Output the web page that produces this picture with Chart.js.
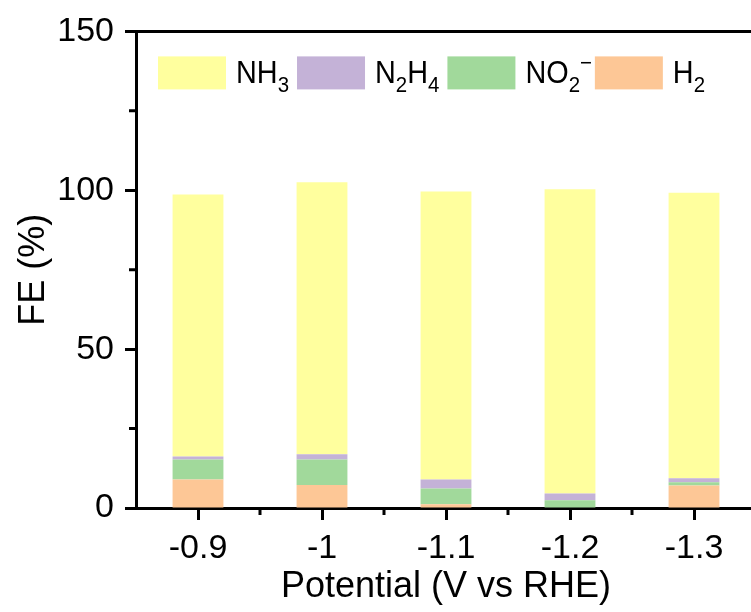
<!DOCTYPE html>
<html>
<head>
<meta charset="utf-8">
<script src="https://cdn.jsdelivr.net/npm/chart.js@4.4.1/dist/chart.umd.min.js"></script>
<style>
  html, body { margin: 0; padding: 0; background: #fff; overflow: hidden; }
  #wrap { width: 780px; height: 612px; }
</style>
</head>
<body>
<div id="wrap"><canvas id="feChart" width="780" height="612"></canvas></div>
<script>
// values (FE %, stacked bottom -> top)
const potentials = ['-0.9', '-1', '-1.1', '-1.2', '-1.3'];
const h2   = [9.0, 7.2, 1.2, 0.0, 7.1];
const no2  = [6.3, 8.1, 4.9, 2.4, 1.0];
const n2h4 = [0.9, 1.6, 2.9, 2.2, 1.3];
const nh3  = [82.5, 85.6, 90.6, 95.7, 89.8];
const yTicks = [0, 50, 100, 150];

const seriesNames  = ['H2', 'NO2-', 'N2H4', 'NH3'];
const seriesData   = [h2, no2, n2h4, nh3];
const seriesColors = ['#FDC796', '#A1D99B', '#C4B2D7', '#FFFF9E'];

const FONT = "'Liberation Sans', Arial, sans-serif";

// digits -> subscript, '-' -> superscript minus; slightly narrowed like the source font
function drawChem(ctx, label, x, y, size, sx) {
  ctx.save();
  ctx.translate(x, y);
  ctx.scale(sx, 1);
  let cx = 0;
  const small = `${Math.round(size * 0.7)}px ${FONT}`;
  for (const ch of label) {
    if (/[0-9]/.test(ch)) {
      ctx.font = small;
      ctx.fillText(ch, cx, size * 0.27);
      cx += ctx.measureText(ch).width;
    } else if (ch === '-') {
      ctx.font = small;
      ctx.fillText('\u2212', cx, -size * 0.42);
      cx += ctx.measureText('-').width;
    } else {
      ctx.font = `${size}px ${FONT}`;
      ctx.fillText(ch, cx, 0);
      cx += ctx.measureText(ch).width;
    }
  }
  ctx.restore();
  return cx * sx;
}

const legendBoxes = {
  id: 'legendBoxes',
  afterDraw(chart) {
    const { ctx, chartArea } = chart;
    let x = chartArea.left + 22;
    const top = chartArea.top + 25;
    ctx.save();
    ctx.textBaseline = 'alphabetic';
    chart.data.datasets.slice().reverse().forEach(ds => {
      ctx.fillStyle = ds.backgroundColor;
      ctx.fillRect(x, top, 68, 33);
      x += 68 + 10;
      ctx.fillStyle = '#000';
      x += drawChem(ctx, ds.label, x, top + 27, 31, 0.93) + 8;
    });
    ctx.restore();
  }
};

const frame = {
  id: 'frame',
  afterDraw(chart) {
    const { ctx, chartArea, scales: { x, y } } = chart;
    ctx.save();
    ctx.strokeStyle = '#000';
    ctx.lineWidth = 3;
    ctx.beginPath();
    ctx.moveTo(chartArea.left - 1.5, chartArea.top);
    ctx.lineTo(chartArea.right, chartArea.top);
    ctx.stroke();
    // minor ticks between categories
    const half = (x.getPixelForValue(1) - x.getPixelForValue(0)) / 2;
    ctx.beginPath();
    for (let i = 0; i < potentials.length; i++) {
      const px = x.getPixelForValue(i) + half;
      ctx.moveTo(px, chartArea.bottom);
      ctx.lineTo(px, chartArea.bottom + 7);
    }
    // minor ticks halfway between y labels
    for (let i = 0; i < yTicks.length - 1; i++) {
      const py = y.getPixelForValue((yTicks[i] + yTicks[i + 1]) / 2);
      ctx.moveTo(chartArea.left, py);
      ctx.lineTo(chartArea.left - 7, py);
    }
    ctx.stroke();
    ctx.restore();
  }
};

new Chart(document.getElementById('feChart'), {
  type: 'bar',
  data: {
    labels: potentials,
    datasets: seriesNames.map((name, i) => ({
      label: name,
      data: seriesData[i],
      backgroundColor: seriesColors[i],
      borderWidth: 0,
      barPercentage: 0.41,
      categoryPercentage: 1
    }))
  },
  options: {
    responsive: false,
    animation: false,
    layout: { padding: { top: 28, right: 24, left: 0, bottom: 0 } },
    plugins: { legend: { display: false }, tooltip: { enabled: false } },
    scales: {
      x: {
        stacked: true,
        offset: true,
        grid: { offset: false, drawOnChartArea: false, drawTicks: true, tickLength: 12, tickWidth: 3, tickColor: '#000' },
        border: { color: '#000', width: 3 },
        ticks: { color: '#000', font: { family: FONT, size: 34 }, padding: 8, maxRotation: 0 },
        title: { display: true, text: 'Potential (V vs RHE)', color: '#000', font: { family: FONT, size: 36 }, padding: { top: 0, bottom: 3 } },
        afterFit(s) { s.height = 104; }
      },
      y: {
        stacked: true,
        min: 0,
        max: 150,
        afterBuildTicks(s) { s.ticks = yTicks.map(v => ({ value: v })); },
        grid: { drawOnChartArea: false, drawTicks: true, tickLength: 11, tickWidth: 3, tickColor: '#000' },
        border: { color: '#000', width: 3 },
        ticks: { color: '#000', font: { family: FONT, size: 34 }, padding: 11 },
        title: { display: true, text: 'FE (%)', color: '#000', font: { family: FONT, size: 36 }, padding: { top: 12, bottom: 0 } },
        afterFit(s) { s.width = 136; }
      }
    }
  },
  plugins: [legendBoxes, frame]
});
</script>
</body>
</html>
